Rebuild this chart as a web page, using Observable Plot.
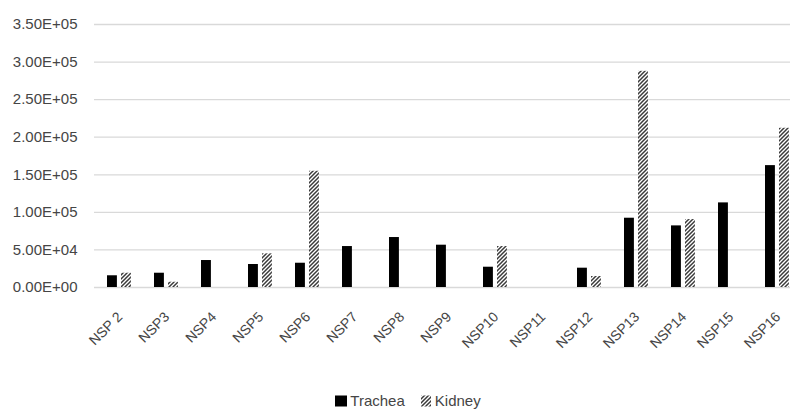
<!DOCTYPE html>
<html>
<head>
<meta charset="utf-8">
<script src="https://cdn.jsdelivr.net/npm/d3@7"></script>
<script src="https://cdn.jsdelivr.net/npm/@observablehq/plot@0.6"></script>
<style>
  html, body { margin: 0; padding: 0; background: #fff; }
  #chart { width: 790px; height: 410px; position: relative; overflow: hidden; }
  #legend { position: absolute; left: 0; top: 392px; width: 790px; display: flex; justify-content: center; align-items: center;
    font-family: "Liberation Sans", Arial, sans-serif; font-size: 15px; color: #454545; padding-left: 26px; box-sizing: border-box; }
  .item { display: flex; align-items: center; margin: 0 8px; }
  .item svg { margin-right: 2px; }
</style>
</head>
<body>
<div id="chart"></div>
<script>
const categories = ["NSP 2","NSP3","NSP4","NSP5","NSP6","NSP7","NSP8","NSP9","NSP10","NSP11","NSP12","NSP13","NSP14","NSP15","NSP16"];
const trachea = [15600, 19000, 35900, 30600, 32300, 54500, 66500, 56300, 27000, null, 25700, 92200, 82000, 112600, 162200];
const kidney  = [19000, 7000, null, 44800, 154700, null, null, null, 54500, null, 14600, 287700, 90400, null, 211900];
const series = ["Trachea", "Kidney"];
const yTicks = [0, 50000, 100000, 150000, 200000, 250000, 300000, 350000];
const yTickLabels = ["0.00E+00","5.00E+04","1.00E+05","1.50E+05","2.00E+05","2.50E+05","3.00E+05","3.50E+05"];

const rowsT = categories.map((c, i) => ({cat: c, value: trachea[i]})).filter(d => d.value != null);
const rowsK = categories.map((c, i) => ({cat: c, value: kidney[i]})).filter(d => d.value != null);

const NS = "http://www.w3.org/2000/svg";
function hatchDefs() {
  const defs = document.createElementNS(NS, "defs");
  const pat = document.createElementNS(NS, "pattern");
  pat.setAttribute("id", "hatch");
  pat.setAttribute("patternUnits", "userSpaceOnUse");
  pat.setAttribute("width", "4");
  pat.setAttribute("height", "4");
  const bg = document.createElementNS(NS, "rect");
  bg.setAttribute("width", "4"); bg.setAttribute("height", "4"); bg.setAttribute("fill", "#fff");
  pat.appendChild(bg);
  const p = document.createElementNS(NS, "path");
  p.setAttribute("d", "M-1,1 L1,-1 M0,4 L4,0 M3,5 L5,3");
  p.setAttribute("stroke", "#3a3a3a");
  p.setAttribute("stroke-width", "1.5");
  pat.appendChild(p);
  defs.appendChild(pat);
  return defs;
}

const step = 47.1;
const x0 = 94;
const font = "'Liberation Sans', Arial, sans-serif";

const plot = Plot.plot({
  width: 790,
  height: 392,
  marginLeft: 94,
  marginRight: 0,
  marginTop: 24,
  marginBottom: 105,
  style: {fontFamily: font, fontSize: "14px", color: "#454545", background: "#fff"},
  x: {domain: categories, range: [x0, x0 + step * categories.length], padding: 0},
  y: {domain: [0, 350000], range: [287, 24]},
  marks: [
    () => hatchDefs(),
    Plot.ruleY(yTicks, {stroke: "#d9d9d9", strokeWidth: 1.3}),
    Plot.barY(rowsT, {x: "cat", y: "value", fill: "#000", insetLeft: 12, insetRight: step - 22}),
    Plot.barY(rowsK, {x: "cat", y: "value", fill: "url(#hatch)", insetLeft: 26, insetRight: step - 36}),
    Plot.axisY({ticks: yTicks, tickFormat: (d) => yTickLabels[yTicks.indexOf(d)], tickSize: 0, tickPadding: 17, label: null, fontSize: 15, fill: "#454545"}),
    Plot.axisX({tickSize: 0, tickPadding: 27, tickRotate: -45, dx: 1, label: null, fontSize: 14, fill: "#454545"})
  ]
});

const chart = document.getElementById("chart");
chart.appendChild(plot);

const legend = document.createElement("div");
legend.id = "legend";
legend.innerHTML = `
  <span class="item"><svg width="13" height="12"><rect width="12" height="11" y="0.5" fill="#000"/></svg>${series[0]}</span>
  <span class="item"><svg width="12" height="12"><defs><pattern id="hatchL" patternUnits="userSpaceOnUse" width="4" height="4"><rect width="4" height="4" fill="#fff"/><path d="M-1,1 L1,-1 M0,4 L4,0 M3,5 L5,3" stroke="#3a3a3a" stroke-width="1.5"/></pattern></defs><rect width="10" height="11" y="0.5" fill="url(#hatchL)"/></svg>${series[1]}</span>`;
chart.appendChild(legend);
</script>
</body>
</html>
